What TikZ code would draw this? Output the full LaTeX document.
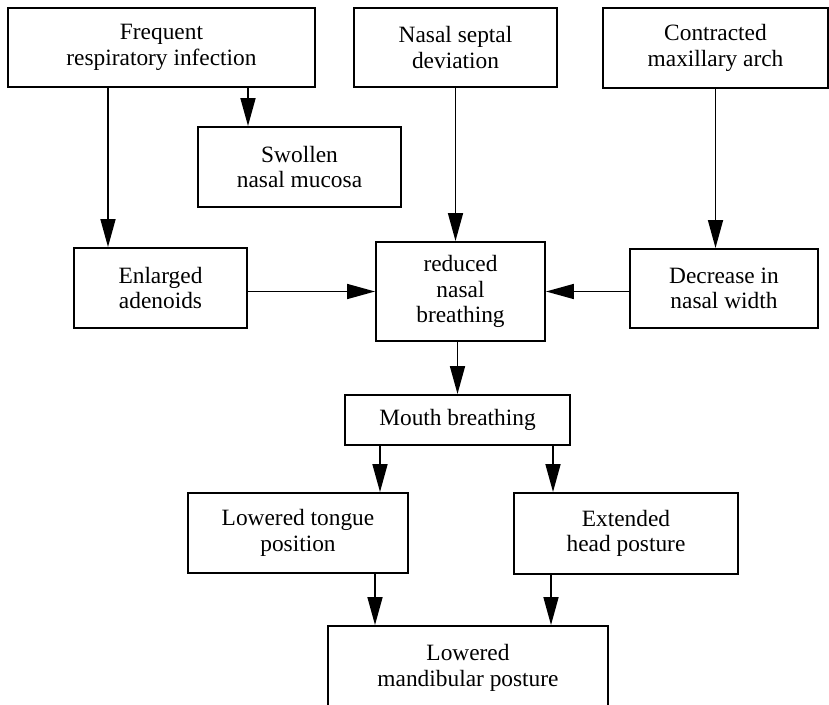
\documentclass[tikz,border=0pt]{standalone}
\usepackage{fontspec}
\setmainfont{Liberation Serif}
\usetikzlibrary{%
  arrows.meta,%
  positioning,%
  calc%
}

\begin{document}
\begin{tikzpicture}
[font=\fontsize{13.3}{14.5}\selectfont, draw=black, line width=1.1pt,
>={Triangle[length=0.56cm,width=0.3cm]},
box/.style={rectangle, draw, align=center, inner sep=0pt},
link/.style={->, line width=0.95pt}]

\useasboundingbox (0,0) rectangle (16.58,14.08);

% top row
\node[box, minimum width=6.14cm, minimum height=1.58cm] (infection) at (3.23,13.13) {Frequent\\respiratory infection};
\node[box, minimum width=4.06cm, minimum height=1.58cm] (septal) at (9.11,13.13) {Nasal septal\\deviation};
\node[box, minimum width=4.50cm, minimum height=1.60cm] (arch) at (14.31,13.12) {Contracted\\maxillary arch};

\node[box, minimum width=4.06cm, minimum height=1.60cm] (mucosa) at (5.99,10.74) {Swollen\\nasal mucosa};

% middle row
\node[box, minimum width=3.46cm, minimum height=1.60cm] (adenoids) at (3.21,8.32) {Enlarged\\adenoids};
\node[box, minimum width=3.38cm, minimum height=1.98cm] (reduced) at (9.21,8.25) {reduced\\nasal\\breathing};
\node[box, minimum width=3.76cm, minimum height=1.58cm] (width) at (14.48,8.31) {Decrease in\\nasal width};

\node[box, minimum width=4.50cm, minimum height=1.00cm] (mouth) at (9.15,5.68) {Mouth breathing};

% bottom
\node[box, minimum width=4.40cm, minimum height=1.60cm] (tongue) at (5.96,3.42) {Lowered tongue\\position};
\node[box, minimum width=4.48cm, minimum height=1.62cm] (head) at (12.52,3.41) {Extended\\head posture};
\node[box, minimum width=5.60cm, minimum height=1.68cm] (mandible) at (9.36,0.72) {Lowered\\mandibular posture};

\draw[link] ([xshift=-1.05cm]adenoids.north |- infection.south) -- ([xshift=-1.05cm]adenoids.north);
\draw[link] ([xshift=-1.03cm]mucosa.north |- infection.south) -- ([xshift=-1.03cm]mucosa.north);
\draw[link] (septal.south) -- (septal.south |- reduced.north);
\draw[link] (arch.south) -- (arch.south |- width.north);
\draw[link] (adenoids.east |- reduced.west) -- (reduced.west);
\draw[link] (width.west |- reduced.east) -- (reduced.east);
\draw[link] (reduced.south -| mouth.north) -- (mouth.north);
\draw[link] ([xshift=-1.55cm]mouth.south) -- ([xshift=-1.55cm]mouth.south |- tongue.north);
\draw[link] ([xshift=1.91cm]mouth.south) -- ([xshift=1.91cm]mouth.south |- head.north);
\draw[link] ([xshift=1.54cm]tongue.south) -- ([xshift=1.54cm]tongue.south |- mandible.north);
\draw[link] ([xshift=-1.50cm]head.south) -- ([xshift=-1.50cm]head.south |- mandible.north);

\end{tikzpicture}
\end{document}
